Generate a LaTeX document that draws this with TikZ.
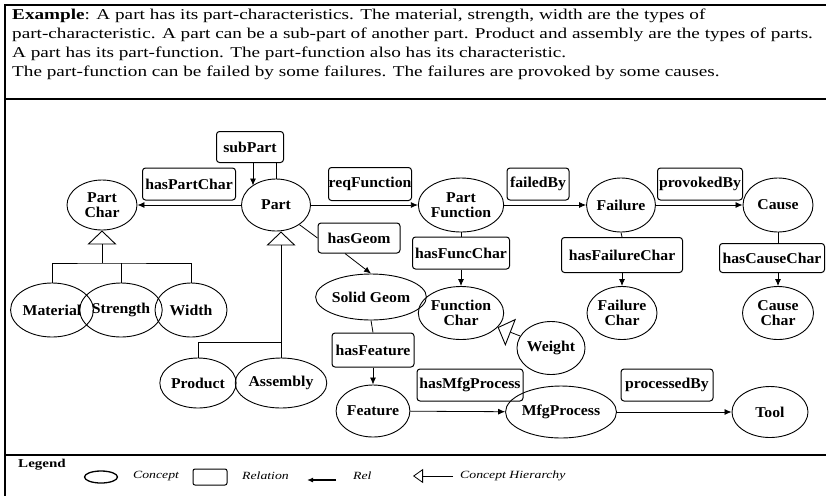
\documentclass[tikz,border=0pt]{standalone}
\usepackage{fontspec}
\setmainfont{Liberation Serif}
\newfontfamily\descfont{Liberation Serif}[FakeStretch=1.28]
\newfontfamily\nodefont{Liberation Serif}[FakeStretch=1.05]
\newfontfamily\legfont{Liberation Serif}[FakeStretch=1.25]
\usetikzlibrary{arrows.meta,shapes.geometric}
\begin{document}
\begin{tikzpicture}[x=1pt,y=-1pt,
  concept/.style={draw,ellipse,line width=0.9pt,inner sep=0pt,align=center,
    font=\nodefont\bfseries\fontsize{15}{14.5}\selectfont},
  relbox/.style={draw,rectangle,rounded corners=3pt,line width=1pt,inner sep=0pt,
    font=\nodefont\bfseries\fontsize{15}{15}\selectfont},
  link/.style={line width=0.8pt},
  arr/.style={link,-{Latex[length=7pt,width=6pt]}},
  hier/.style={link,-{Triangle[open,length=14pt,width=29pt,line width=0.9pt]}},
  legtext/.style={font=\legfont\itshape\fontsize{11}{11}\selectfont,inner sep=0pt},
]
\useasboundingbox (0,0) rectangle (826,496);
% frame
\draw[line width=1.5pt] (5,5) -- (826,5);
\draw[line width=2pt] (5,4) -- (5,496);
\draw[line width=1.2pt] (5,99) -- (826,99);
\draw[line width=1.2pt] (5,455) -- (826,455);
% description
\node[anchor=north west,align=left,inner sep=0pt,font=\descfont\fontsize{15}{19}\selectfont] (desc) at (12,8.5)
{\textbf{Example}: A part has its part-characteristics. The material, strength, width are the types of\\
part-characteristic. A part can be a sub-part of another part. Product and assembly are the types of parts.\\
A part has its part-function. The part-function also has its characteristic.\\
The part-function can be failed by some failures. The failures are provoked by some causes.};
% concepts
\node[concept,minimum width=70pt,minimum height=50pt] (PartChar) at (102,205) {Part\\Char};
\node[concept,minimum width=69pt,minimum height=52pt] (Part) at (276,205) {Part};
\node[concept,minimum width=70pt,minimum height=54pt] (Material) at (52,310) {Material};
\node[concept,minimum width=68pt,minimum height=54pt] (Strength) at (121,310) {Strength};
\node[concept,minimum width=72pt,minimum height=54pt] (Width) at (191,310) {Width};
\node[concept,minimum width=66pt,minimum height=50pt] (Product) at (198,383) {Product};
\node[concept,minimum width=68pt,minimum height=50pt] (Assembly) at (281,383) {Assembly};
\node[concept,minimum width=84pt,minimum height=46pt] (SolidGeom) at (371,297) {Solid Geom};
\node[concept,minimum width=72pt,minimum height=52pt] (Feature) at (373,411) {Feature};
\node[concept,minimum width=68pt,minimum height=54pt] (PartFunction) at (461,205) {Part\\Function};
\node[concept,minimum width=68pt,minimum height=54pt] (Failure) at (621,205) {Failure};
\node[concept,minimum width=70pt,minimum height=54pt] (Cause) at (778,205) {Cause};
\node[concept,minimum width=68pt,minimum height=53pt] (FunctionChar) at (461,313) {Function\\Char};
\node[concept,minimum width=70pt,minimum height=53pt] (FailureChar) at (622,313) {Failure\\Char};
\node[concept,minimum width=71pt,minimum height=53pt] (CauseChar) at (778,313) {Cause\\Char};
\node[concept,minimum width=68pt,minimum height=53pt] (Weight) at (551,348) {Weight};
\node[concept,minimum width=86pt,minimum height=52pt] (MfgProcess) at (561,412) {MfgProcess};
\node[concept,minimum width=76pt,minimum height=51pt] (Tool) at (770,412) {Tool};
% relations
\node[relbox,minimum width=67pt,minimum height=31pt] (subPart) at (250,147) {subPart};
\node[relbox,minimum width=93pt,minimum height=32pt] (hasPartChar) at (189,184) {hasPartChar};
\node[relbox,minimum width=83pt,minimum height=33pt] (reqFunction) at (370,184) {reqFunction};
\node[relbox,minimum width=62pt,minimum height=32pt] (failedBy) at (538,184) {failedBy};
\node[relbox,minimum width=85pt,minimum height=32pt] (provokedBy) at (700,184) {provokedBy};
\node[relbox,minimum width=82pt,minimum height=30pt] (hasGeom) at (359,238) {hasGeom};
\node[relbox,minimum width=97pt,minimum height=32pt] (hasFuncChar) at (461,253) {hasFuncChar};
\node[relbox,minimum width=121pt,minimum height=35pt] (hasFailureChar) at (622,255) {hasFailureChar};
\node[relbox,minimum width=105pt,minimum height=29pt] (hasCauseChar) at (772,258) {hasCauseChar};
\node[relbox,minimum width=82pt,minimum height=34pt] (hasFeature) at (373,350) {hasFeature};
\node[relbox,minimum width=106pt,minimum height=32pt] (hasMfgProcess) at (470,385) {hasMfgProcess};
\node[relbox,minimum width=92pt,minimum height=32pt] (processedBy) at (667,385) {processedBy};
% relation connectors
\draw[arr] (Part) -- (PartChar);
\draw[arr] (Part) -- (PartFunction);
\draw[arr] (PartFunction) -- (Failure);
\draw[arr] (Failure) -- (Cause);
\draw[arr] ([xshift=3pt]subPart.south) -- ++(0,22.5);
\draw[link] (Part.north) -- (Part.north |- subPart.south);
\draw[link] (Part.-40) -- (hasGeom.west);
\draw[arr] ([xshift=-14pt]hasGeom.south) -- (SolidGeom.north);
\draw[link] (SolidGeom.south) -- (hasFeature.north);
\draw[arr] (hasFeature.south) -- (Feature.north);
\draw[arr] (Feature) -- (MfgProcess);
\draw[arr] (MfgProcess) -- (Tool);
\draw[link] (PartFunction.south) -- (hasFuncChar.north);
\draw[arr] (hasFuncChar.south) -- (FunctionChar.north);
\draw[link] (Failure.south) -- (hasFailureChar.north);
\draw[arr] (hasFailureChar.south) -- (FailureChar.north);
\draw[link] (Cause.south) -- (hasCauseChar.north -| Cause.south);
\draw[arr] (hasCauseChar.south -| CauseChar.north) -- (CauseChar.north);
% hierarchies
\coordinate (pcj) at (102,263);
\draw[hier] (pcj) -- (PartChar.south);
\draw[link] (Material.north) |- (pcj) -| (Width.north);
\draw[link] (Strength.north) -- (Strength.north |- pcj);
\coordinate (pj) at (281,342);
\draw[hier] (pj) -- (pj |- Part.south);
\draw[link] (Product.north) |- (pj) -- (Assembly.north);
\draw[hier] (Weight) -- (FunctionChar);
% legend
\node[inner sep=0pt,font=\legfont\bfseries\fontsize{12}{12}\selectfont] (legend) at (42,465) {Legend};
\node[draw,ellipse,line width=1.3pt,minimum width=33pt,minimum height=12pt,inner sep=0pt] (lgconcept) at (101,477) {};
\node[legtext,anchor=west] (lgconcepttext) at (133,476) {Concept};
\node[draw,rectangle,rounded corners=2pt,line width=1pt,minimum width=34pt,minimum height=16pt,inner sep=0pt] (lgrel) at (210,477) {};
\node[legtext,anchor=west] (lgreltext) at (242,476) {Relation};
\coordinate (lra) at (336,480);
\coordinate (lrb) at (307,480);
\draw[line width=1.3pt,-{Latex[length=6pt,width=5pt]}] (lra) -- (lrb);
\node[legtext,anchor=west] (lrtext) at (353,476) {Rel};
\coordinate (lha) at (453,476);
\coordinate (lhb) at (413,476);
\draw[link,-{Triangle[open,length=10pt,width=14pt,line width=0.8pt]}] (lha) -- (lhb);
\node[legtext,anchor=west] (lhtext) at (460,476) {Concept Hierarchy};
\end{tikzpicture}
\end{document}
